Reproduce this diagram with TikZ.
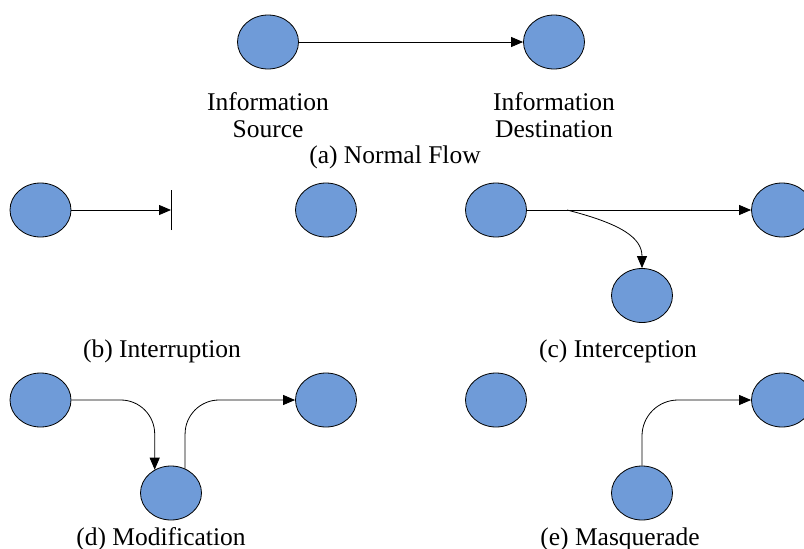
\documentclass[tikz,border=0pt]{standalone}
\usepackage{fontspec}
\setmainfont{Liberation Serif}
\usetikzlibrary{shapes.geometric,arrows.meta}
\definecolor{nodeblue}{HTML}{6F9BD8}
\tikzset{
  party/.style={ellipse,draw=black,line width=0.8pt,fill=nodeblue,
    minimum width=61pt,minimum height=54pt,inner sep=0pt},
  flow/.style={draw=black,line width=0.8pt,-{Triangle[length=12pt,width=10pt]}},
  plain/.style={draw=black,line width=0.8pt},
  lbl/.style={font=\fontsize{25.5}{29}\selectfont,anchor=base,inner sep=0pt}
}
\begin{document}
\begin{tikzpicture}[x=1pt,y=-1pt]
\useasboundingbox (0,0) rectangle (804,549);

% (a) normal flow
\node[party] (a1) at (268,42) {};
\node[party] (a2) at (554,42) {};
\draw[flow] (a1.east) -- (a2.west);
\node[lbl] (a1t1) at (268,110) {Information};
\node[lbl] (a1t2) at (268,137) {Source};
\node[lbl] (a2t1) at (554,110) {Information};
\node[lbl] (a2t2) at (554,137) {Destination};
\node[lbl] (acap) at (395,163) {(a) Normal Flow};

% (b) interruption
\node[party] (b1) at (40.5,210) {};
\node[party] (b2) at (326,210) {};
\coordinate (cut) at (171,210);
\draw[flow] (b1.east) -- (cut);
\draw[plain] ([yshift=-20pt]cut) -- ([yshift=20pt]cut);
\node[lbl] (bcap) at (162,357) {(b) Interruption};

% (c) interception
\node[party] (c1) at (496,210) {};
\node[party] (c2) at (782,210) {};
\node[party] (c3) at (642,295.5) {};
\draw[flow] (c1.east) -- (c2.west);
\coordinate (tap) at (567,210);
\draw[flow] (tap) .. controls (622,224) and (642,238) .. (c3.north);
\node[lbl] (ccap) at (618,357) {(c) Interception};

% (d) modification
\node[party] (d1) at (40.5,400) {};
\node[party] (d2) at (326,400) {};
\node[party] (d3) at (171,493) {};
\draw[flow,rounded corners=34pt] (d1.east) -| (d3.125);
\draw[flow,rounded corners=34pt] (d3.60) |- (d2.west);
\node[lbl] (dcap) at (161,545) {(d) Modification};

% (e) masquerade
\node[party] (e1) at (496,400) {};
\node[party] (e2) at (782,400) {};
\node[party] (e3) at (642,493) {};
\draw[flow,rounded corners=36pt] (e3.north) |- (e2.west);
\node[lbl] (ecap) at (620,545) {(e) Masquerade};
\end{tikzpicture}
\end{document}
